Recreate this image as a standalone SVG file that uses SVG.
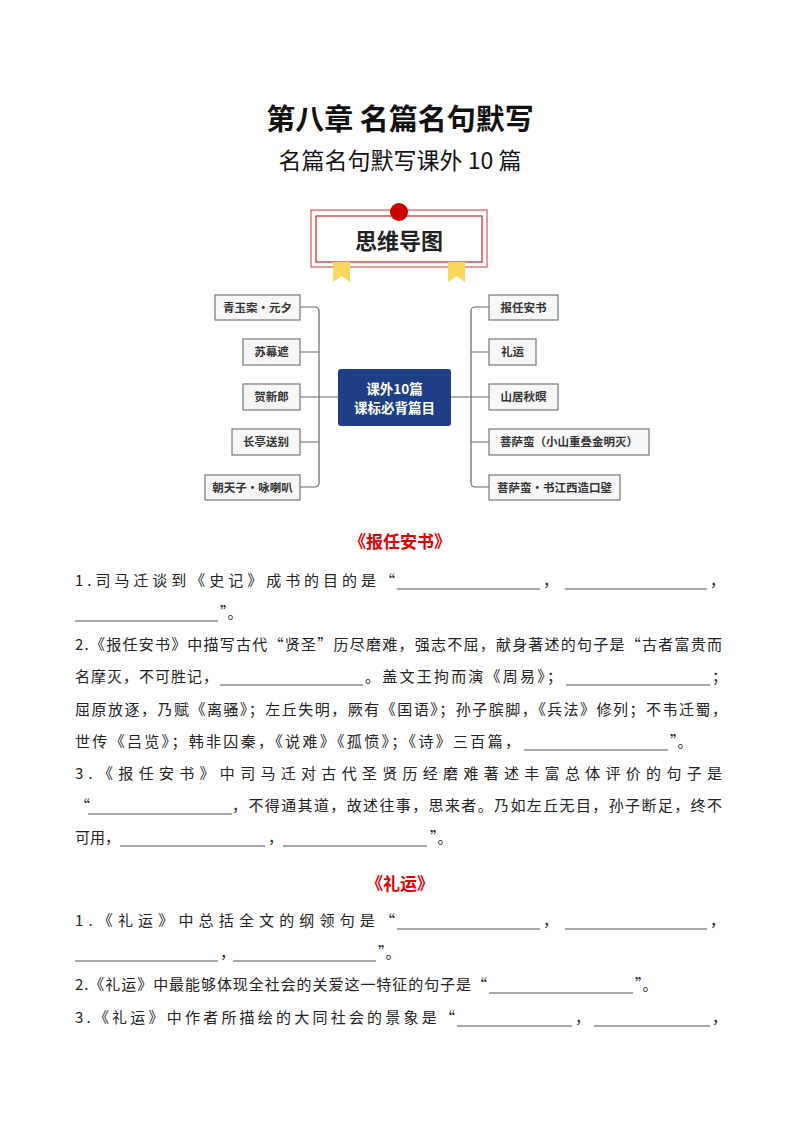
<svg xmlns="http://www.w3.org/2000/svg" width="800" height="1132" viewBox="0 0 800 1132">
<style>
text{font-family:"Noto Sans CJK SC","Noto Sans",sans-serif}
.t{font-size:15px;fill:#222}
.n{font-size:11.5px;font-weight:bold;fill:#333}
.nb{fill:#f7f7f7;stroke:#777;stroke-width:1.2}
.c{fill:none;stroke:#666;stroke-width:1.2}
.b{stroke:#222;stroke-width:0.8}
.h{font-size:17px;font-weight:bold;fill:#e00000}
</style>
<rect width="800" height="1132" fill="#fff"/>
<text x="400" y="130" text-anchor="middle" font-size="29" font-weight="bold" fill="#111">第八章  名篇名句默写</text>
<text x="400" y="169" text-anchor="middle" font-size="23" fill="#111">名篇名句默写课外 10 篇</text>
<g id="banner">
<rect x="311" y="210" width="176" height="57" fill="#fff" stroke="#d33" stroke-width="1"/>
<rect x="316" y="216" width="166" height="46" fill="#fff" stroke="#c22" stroke-width="1.2"/>
<circle cx="399" cy="212" r="9" fill="#c00"/>
<path d="M333 262h17v20l-8.5-6-8.5 6z M448 262h17v20l-8.5-6-8.5 6z" fill="#f8d85a"/>
<text x="399" y="249" text-anchor="middle" font-size="22" font-weight="bold" fill="#222">思维导图</text>
</g>
<g id="connectors">
<path class="c" d="M300 307h15a4 4 0 0 1 4 4v172a4 4 0 0 1-4 4h-15 M300 352h19 M300 397h38 M300 442h19"/>
<path class="c" d="M489 307h-14a4 4 0 0 0-4 4v172a4 4 0 0 0 4 4h14 M489 352h-18 M451 397h38 M489 442h-18"/>
</g>
<g id="center"><rect x="338" y="369" width="113" height="57" rx="3" fill="#1e3f86"/>
<text x="394.5" y="394" text-anchor="middle" font-size="13.5" font-weight="bold" fill="#fff">课外10篇</text>
<text x="394.5" y="413" text-anchor="middle" font-size="13.5" font-weight="bold" fill="#fff">课标必背篇目</text></g>
<g id="n1"><rect class="nb" x="215" y="295" width="85" height="25"/><text class="n" x="257.5" y="312" text-anchor="middle">青玉案•元夕</text></g>
<g id="n2"><rect class="nb" x="243" y="339" width="57" height="26"/><text class="n" x="271.5" y="356" text-anchor="middle">苏幕遮</text></g>
<g id="n3"><rect class="nb" x="243" y="384" width="57" height="26"/><text class="n" x="271.5" y="401" text-anchor="middle">贺新郎</text></g>
<g id="n4"><rect class="nb" x="232" y="429" width="68" height="26"/><text class="n" x="266" y="446" text-anchor="middle">长亭送别</text></g>
<g id="n5"><rect class="nb" x="205" y="475" width="95" height="25"/><text class="n" x="252.5" y="492" text-anchor="middle">朝天子•咏喇叭</text></g>
<g id="n6"><rect class="nb" x="489" y="295" width="69" height="25"/><text class="n" x="523.5" y="312" text-anchor="middle">报任安书</text></g>
<g id="n7"><rect class="nb" x="489" y="339" width="47" height="26"/><text class="n" x="512.5" y="356" text-anchor="middle">礼运</text></g>
<g id="n8"><rect class="nb" x="489" y="384" width="69" height="26"/><text class="n" x="523.5" y="401" text-anchor="middle">山居秋暝</text></g>
<g id="n9"><rect class="nb" x="489" y="429" width="160" height="26"/><text class="n" x="569" y="446" text-anchor="middle">菩萨蛮（小山重叠金明灭）</text></g>
<g id="n10"><rect class="nb" x="489" y="475" width="131" height="25"/><text class="n" x="554.5" y="492" text-anchor="middle">菩萨蛮•书江西造口壁</text></g>

<text class="h" x="400" y="548" text-anchor="middle">《报任安书》</text>
<text class="t" x="75" y="586" textLength="320" lengthAdjust="spacing">1.司马迁谈到《史记》成书的目的是“</text>
<line class="b" x1="397" y1="589" x2="540" y2="589"/><text class="t" x="543" y="586">，</text>
<line class="b" x1="565" y1="589" x2="707" y2="589"/><text class="t" x="710" y="586">，</text>
<line class="b" x1="75" y1="621" x2="218" y2="621"/><text class="t" x="220" y="618">”。</text>
<text class="t" x="75" y="650" textLength="647" lengthAdjust="spacing">2.《报任安书》中描写古代“贤圣”历尽磨难，强志不屈，献身著述的句子是“古者富贵而</text>
<text class="t" x="75" y="682" textLength="143" lengthAdjust="spacing">名摩灭，不可胜记，</text>
<line class="b" x1="220" y1="685" x2="363" y2="685"/>
<text class="t" x="365" y="682" textLength="197" lengthAdjust="spacing">。盖文王拘而演《周易》；</text>
<line class="b" x1="566" y1="685" x2="710" y2="685"/><text class="t" x="712" y="682">；</text>
<text class="t" x="75" y="715" textLength="652" lengthAdjust="spacing">屈原放逐，乃赋《离骚》；左丘失明，厥有《国语》；孙子膑脚，《兵法》修列；不韦迁蜀，</text>
<text class="t" x="75" y="747" textLength="445" lengthAdjust="spacing">世传《吕览》；韩非囚秦，《说难》《孤愤》；《诗》三百篇，</text>
<line class="b" x1="524" y1="750" x2="668" y2="750"/><text class="t" x="670" y="747">”。</text>
<text class="t" x="75" y="779" textLength="647" lengthAdjust="spacing">3.《报任安书》中司马迁对古代圣贤历经磨难著述丰富总体评价的句子是</text>
<text class="t" x="75" y="811">“</text>
<line class="b" x1="88" y1="814" x2="232" y2="814"/>
<text class="t" x="232" y="811" textLength="490" lengthAdjust="spacing">，不得通其道，故述往事，思来者。乃如左丘无目，孙子断足，终不</text>
<text class="t" x="75" y="843">可用，</text>
<line class="b" x1="120" y1="846" x2="265" y2="846"/><text class="t" x="268" y="843">，</text>
<line class="b" x1="283" y1="846" x2="427" y2="846"/><text class="t" x="430" y="843">”。</text>

<text class="h" x="400" y="890" text-anchor="middle">《礼运》</text>
<text class="t" x="75" y="926" textLength="320" lengthAdjust="spacing">1.《礼运》中总括全文的纲领句是“</text>
<line class="b" x1="397" y1="929" x2="540" y2="929"/><text class="t" x="543" y="926">，</text>
<line class="b" x1="565" y1="929" x2="707" y2="929"/><text class="t" x="710" y="926">，</text>
<line class="b" x1="75" y1="961" x2="218" y2="961"/><text class="t" x="220" y="958">，</text>
<line class="b" x1="233" y1="961" x2="376" y2="961"/><text class="t" x="378" y="958">”。</text>
<text class="t" x="75" y="990" textLength="412" lengthAdjust="spacing">2.《礼运》中最能够体现全社会的关爱这一特征的句子是“</text>
<line class="b" x1="489" y1="993" x2="633" y2="993"/><text class="t" x="635" y="990">”。</text>
<text class="t" x="75" y="1023" textLength="380" lengthAdjust="spacing">3.《礼运》中作者所描绘的大同社会的景象是“</text>
<line class="b" x1="457" y1="1026" x2="572" y2="1026"/><text class="t" x="575" y="1023">，</text>
<line class="b" x1="594" y1="1026" x2="710" y2="1026"/><text class="t" x="712" y="1023">，</text>
</svg>
